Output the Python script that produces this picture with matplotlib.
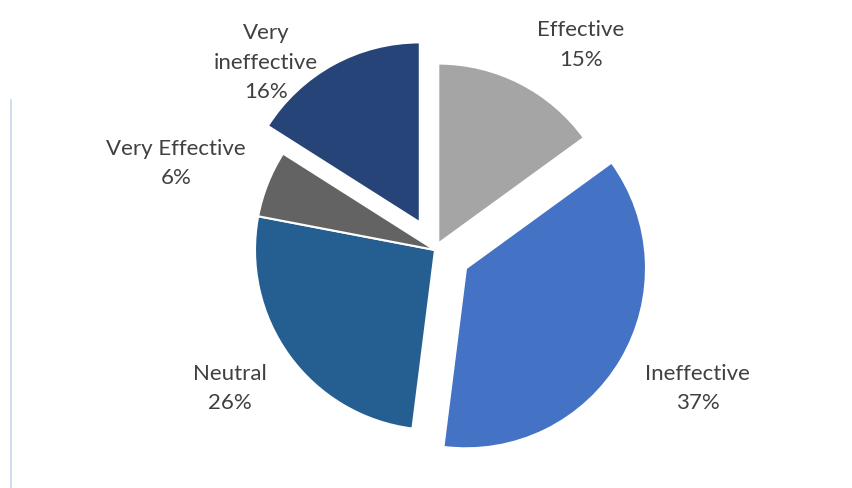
#!/usr/bin/env python3
"""Pie chart of perceived effectiveness, exploded slices, Office-style colours."""

import matplotlib
matplotlib.use("Agg")
import matplotlib.pyplot as plt
from matplotlib.lines import Line2D

CATEGORIES = ["Effective", "Ineffective", "Neutral", "Very Effective", "Very\nineffective"]
SHARES = [15, 37, 26, 6, 16]
COLORS = ["#A5A5A5", "#4472C4", "#255E91", "#636363", "#264478"]
EXPLODE = [0.04, 0.2, 0.0, 0.0, 0.175]

# label anchor (x, y) in pie-radius units, relative to pie centre
LABEL_POS = [(0.81, 1.14), (1.46, -0.77), (-1.14, -0.77), (-1.44, 0.48), (-0.94, 1.04)]

W, H = 852, 488
CX, CY, R = 435, 250, 180  # pixel centre and radius of the pie

fig = plt.figure(figsize=(W / 100, H / 100), dpi=100)
fig.patch.set_facecolor("white")
ax = fig.add_axes([0, 0, 1, 1])

ax.pie(
    SHARES,
    colors=COLORS,
    explode=EXPLODE,
    startangle=90,
    counterclock=False,
    radius=1.0,
    wedgeprops=dict(edgecolor="white", linewidth=1.5),
)

for cat, share, (lx, ly) in zip(CATEGORIES, SHARES, LABEL_POS):
    ax.text(
        lx, ly, f"{cat}\n{share}%",
        ha="center", va="center",
        fontsize=16, family="Lato", color="#404040",
        linespacing=1.6,
    )

ax.set_xlim(-CX / R, (W - CX) / R)
ax.set_ylim(-(H - CY) / R, CY / R)
ax.set_aspect("auto")
ax.axis("off")

# faint frame edge on the left, as in the screenshot
fig.add_artist(Line2D([10.5 / W, 10.5 / W], [0, 1 - 100 / H],
                      color="#c8d8ee", linewidth=1.2, transform=fig.transFigure))

fig.savefig("out.png", dpi=100, facecolor="white")
